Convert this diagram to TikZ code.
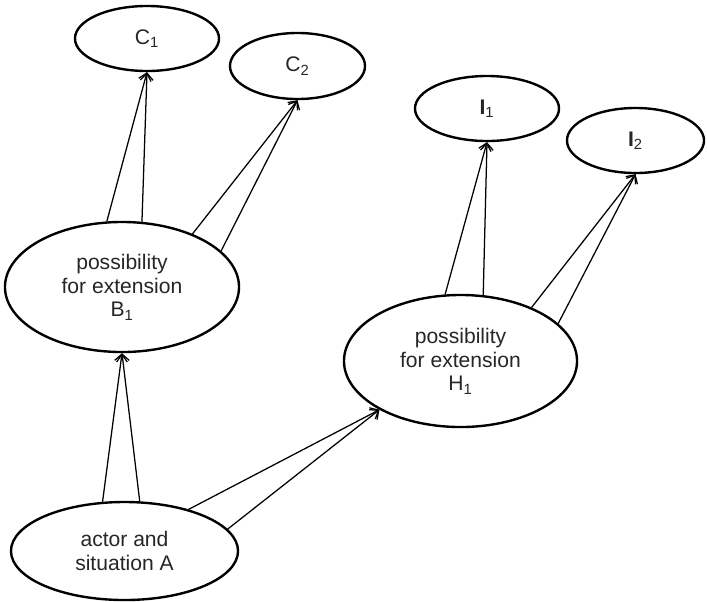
\documentclass[tikz,border=0pt]{standalone}
\usepackage{fontspec}
\setmainfont{Liberation Sans}
\usetikzlibrary{arrows.meta,shapes.geometric}

\begin{document}
\begin{tikzpicture}[x=0.025cm, y=-0.025cm,
    >={Straight Barb[length=5pt,width=9pt]},
    state/.style={ellipse, draw, line width=1.7pt, inner sep=0pt, align=center,
      font=\fontsize{15}{17}\selectfont, text=black!85},
    link/.style={->, line width=0.9pt}]
    \useasboundingbox (0,0) rectangle (707,601);
    % starting point
    \node[state, minimum width=5.675cm, minimum height=2.45cm] (a) at (124.5,551) {actor and\\situation A};
    % extensions
    \node[state, minimum width=5.85cm, minimum height=3.25cm] (b1) at (122,287) {possibility\\for extension\\B\textsubscript{1}};
    \node[state, minimum width=5.825cm, minimum height=3.3cm] (h1) at (460.5,361) {possibility\\for extension\\H\textsubscript{1}};
    % outcomes
    \node[state, minimum width=3.6cm, minimum height=1.625cm] (c1) at (147,38.5) {C\textsubscript{1}};
    \node[state, minimum width=3.375cm, minimum height=1.65cm] (c2) at (297.5,66) {C\textsubscript{2}};
    \node[state, minimum width=3.6cm, minimum height=1.625cm] (i1) at (487,108.5) {\textbf{I}\textsubscript{1}};
    \node[state, minimum width=3.425cm, minimum height=1.625cm] (i2) at (635.5,140.5) {\textbf{I}\textsubscript{2}};
    % paired arrows
    \draw[link] (a.114) -- (b1.south);
    \draw[link] (a.73) -- (b1.south);
    \draw[link] (a.33) -- (h1.211);
    \draw[link] (a.12.6) -- (h1.211);
    \draw[link] (b1.103) -- (c1.south);
    \draw[link] (b1.73) -- (c1.south);
    \draw[link] (b1.37) -- (c2.south);
    \draw[link] (b1.20.5) -- (c2.south);
    \draw[link] (h1.103.6) -- (i1.south);
    \draw[link] (h1.71) -- (i1.south);
    \draw[link] (h1.37) -- (i2.south);
    \draw[link] (h1.21) -- (i2.south);
\end{tikzpicture}
\end{document}
